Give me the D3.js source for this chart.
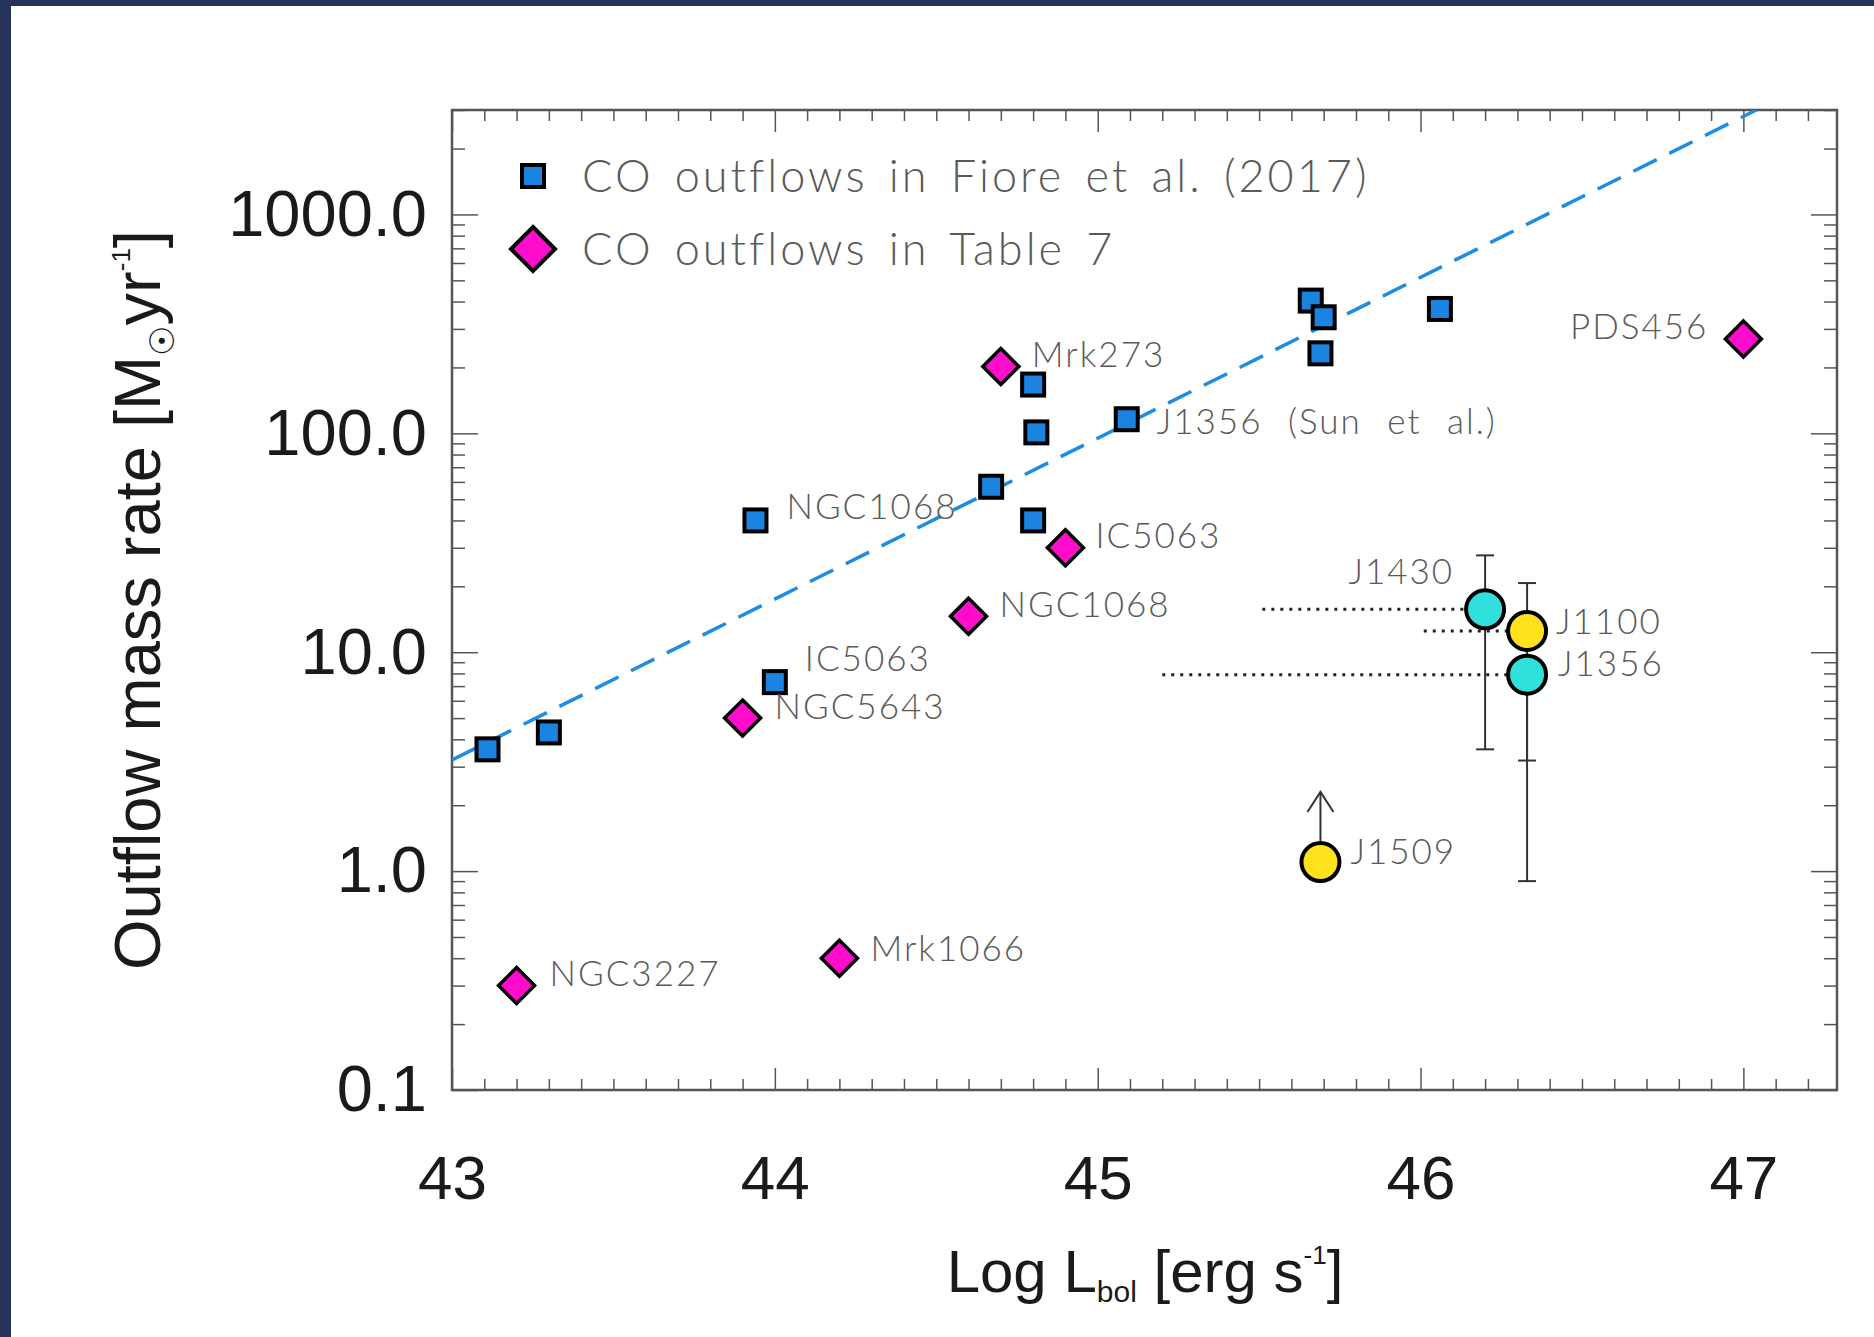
<!DOCTYPE html>
<html>
<head>
<meta charset="utf-8">
<script src="https://cdn.jsdelivr.net/npm/d3@7"></script>
<style>
body { margin: 0; background: #25325a; }
svg { display: block; }
</style>
</head>
<body>
<div id="chart"></div>
<script>
// CO outflows in Fiore et al. (2017)
const fioreNames = ["", "", "NGC1068", "IC5063", "", "", "", "", "J1356 (Sun et al.)", "", "", "", ""];
const fioreLogL = [43.11, 43.30, 43.94, 44.00, 44.67, 44.80, 44.81, 44.80, 45.09, 45.66, 45.70, 45.69, 46.06];
const fioreMdot = [3.6, 4.3, 40, 7.3, 57, 167, 101, 40, 116, 404, 339, 232, 370];

// CO outflows in Table 7
const t7Names = ["NGC3227", "Mrk1066", "NGC5643", "NGC1068", "IC5063", "Mrk273", "PDS456"];
const t7LogL = [43.20, 44.20, 43.90, 44.60, 44.90, 44.70, 47.00];
const t7Mdot = [0.30, 0.40, 5.0, 14.6, 30, 202, 270];

// this work
const ownNames = ["J1430", "J1100", "J1356", "J1509"];
const ownGroup = ["a", "b", "a", "b"];
const ownLogL = [46.20, 46.33, 46.33, 45.69];
const ownMdot = [15.7, 12.5, 7.9, 1.1];
const ownLow = [3.6, 3.2, 0.9, null];
const ownHigh = [27.7, 20.7, 9.0, null];
const ownLogLmin = [45.51, 46.01, 45.20, null];
const ownLimitTo = [null, null, null, 2.3];

// Fiore et al. relation (dashed)
const fitLogL = [43.0, 47.04];
const fitMdot = [3.22, 3000];

// axes
const xTicks = [43, 44, 45, 46, 47];
const xTickLabels = ["43", "44", "45", "46", "47"];
const yTicks = [0.1, 1, 10, 100, 1000];
const yTickLabels = ["0.1", "1.0", "10.0", "100.0", "1000.0"];

// label placement (dx, dy, anchor) relative to the marker
const labelLayout = {
    "fiore:NGC1068": [31, -14, "start"],
    "fiore:IC5063": [30, -24, "start"],
    "fiore:J1356 (Sun et al.)": [30, 2, "start"],
    "t7:NGC3227": [33, -12, "start"],
    "t7:Mrk1066": [31, -10, "start"],
    "t7:NGC5643": [32, -12, "start"],
    "t7:NGC1068": [31, -12, "start"],
    "t7:IC5063": [30, -12, "start"],
    "t7:Mrk273": [31, -12, "start"],
    "t7:PDS456": [-35, -13, "end"],
    "own:J1430": [-31, -38, "end"],
    "own:J1100": [29, -10, "start"],
    "own:J1356": [31, -11, "start"],
    "own:J1509": [30, -11, "start"]
};

let W = 1874, H = 1337;
let m = {top: 110, left: 452};
let w = 1385, h = 980;

let svg = d3.select("#chart").append("svg")
    .attr("width", W)
    .attr("height", H);

svg.append("rect").attr("width", W).attr("height", H).attr("fill", "#25325a");
svg.append("rect").attr("x", 11).attr("y", 6).attr("width", W - 11).attr("height", H - 6).attr("fill", "#fff");

let g = svg.append("g").attr("transform", "translate(" + m.left + "," + m.top + ")");

let x = d3.scaleLinear().domain([43, 47.29]).range([0, w]);
let y = d3.scaleLog().domain([0.1, 3000]).range([h, 0]);

let colour = d3.scaleOrdinal().domain(["a", "b"]).range(["#2fe0dc", "#ffe21c"]);
let blue = "#1a84e0", pink = "#ff0ccc";

let labelFont = "Lato, 'DejaVu Sans', sans-serif";

// minor ticks
let xMinor = d3.range(431, 473).filter(d => d % 10 != 0).map(d => d / 10);
let yMinor = [];
yTicks.forEach(d => {
    for (let k = 2; k <= 9; k++) if (d * k <= 3000) yMinor.push(d * k);
});

const styleAxis = (sel) => {
    sel.select(".domain").remove();
    sel.selectAll(".tick line").attr("stroke", "#555").attr("stroke-width", 1.5);
};

g.append("g").attr("transform", "translate(0," + h + ")")
    .call(d3.axisBottom(x).tickValues(xMinor).tickSize(-11).tickFormat(""))
    .call(styleAxis);
g.append("g").attr("transform", "translate(0," + h + ")")
    .call(d3.axisBottom(x).tickValues(xTicks).tickSize(-22).tickPadding(65)
        .tickFormat((d, i) => xTickLabels[i]))
    .call(styleAxis)
    .selectAll("text")
    .attr("font-family", "'Liberation Sans', Arial, sans-serif")
    .attr("font-size", 62)
    .attr("fill", "#1a1a1a");
g.append("g").call(d3.axisTop(x).tickValues(xMinor).tickSize(-11).tickFormat("")).call(styleAxis);
g.append("g").call(d3.axisTop(x).tickValues(xTicks).tickSize(-22).tickFormat("")).call(styleAxis);

g.append("g").call(d3.axisLeft(y).tickValues(yMinor).tickSize(-13).tickFormat("")).call(styleAxis);
g.append("g")
    .call(d3.axisLeft(y).tickValues(yTicks).tickSize(-26).tickPadding(25)
        .tickFormat((d, i) => yTickLabels[i]))
    .call(styleAxis)
    .selectAll("text")
    .attr("font-family", "'Liberation Sans', Arial, sans-serif")
    .attr("font-size", 65)
    .attr("fill", "#1a1a1a");
g.append("g").attr("transform", "translate(" + w + ",0)")
    .call(d3.axisRight(y).tickValues(yMinor).tickSize(-13).tickFormat("")).call(styleAxis);
g.append("g").attr("transform", "translate(" + w + ",0)")
    .call(d3.axisRight(y).tickValues(yTicks).tickSize(-26).tickFormat("")).call(styleAxis);

g.append("rect")
    .attr("width", w).attr("height", h)
    .attr("fill", "none").attr("stroke", "#555").attr("stroke-width", 2.5);

// axis titles
let yTitle = svg.append("text")
    .attr("transform", "rotate(-90)")
    .attr("x", -600).attr("y", 160)
    .attr("text-anchor", "middle")
    .attr("font-family", "'Liberation Sans', Arial, sans-serif")
    .attr("font-size", 65)
    .attr("fill", "#1a1a1a");
yTitle.append("tspan").text("Outflow mass rate [M");
yTitle.append("tspan").attr("font-family", "'DejaVu Sans', sans-serif").attr("font-size", 34).attr("dy", 14).text("\u2609");
yTitle.append("tspan").attr("dy", -14).text("yr");
yTitle.append("tspan").attr("font-size", 26).attr("dy", -30).text("-1");
yTitle.append("tspan").attr("dy", 30).text("]");

let xTitle = svg.append("text")
    .attr("x", 1145).attr("y", 1292)
    .attr("text-anchor", "middle")
    .attr("font-family", "'Liberation Sans', Arial, sans-serif")
    .attr("font-size", 60)
    .attr("fill", "#1a1a1a");
xTitle.append("tspan").text("Log L");
xTitle.append("tspan").attr("font-size", 30).attr("dy", 10).text("bol");
xTitle.append("tspan").attr("dy", -10).text(" [erg s");
xTitle.append("tspan").attr("font-size", 26).attr("dy", -28).text("-1");
xTitle.append("tspan").attr("dy", 28).text("]");

// clip for the fit line
g.append("clipPath").attr("id", "plotclip")
    .append("rect").attr("width", w).attr("height", h);

let fit = fitLogL.map((d, i) => [d, fitMdot[i]]);
g.append("path")
    .datum(fit)
    .attr("clip-path", "url(#plotclip)")
    .attr("d", d3.line().x(d => x(d[0])).y(d => y(d[1])))
    .attr("fill", "none")
    .attr("stroke", "#1e8ce2")
    .attr("stroke-width", 3.5)
    .attr("stroke-dasharray", "26,14");

// own sources: dotted luminosity ranges, error bars, limit arrow
let own = ownNames.map((d, i) => ({
    name: d, group: ownGroup[i], L: ownLogL[i], M: ownMdot[i],
    lo: ownLow[i], hi: ownHigh[i], Lmin: ownLogLmin[i], lim: ownLimitTo[i]
}));

g.selectAll(".range").data(own.filter(d => d.Lmin != null)).enter()
    .append("line")
    .attr("x1", d => x(d.Lmin)).attr("x2", d => x(d.L))
    .attr("y1", d => y(d.M)).attr("y2", d => y(d.M))
    .attr("stroke", "#222").attr("stroke-width", 3)
    .attr("stroke-dasharray", "3,6");

let bars = g.selectAll(".err").data(own.filter(d => d.lo != null)).enter().append("g");
bars.append("line")
    .attr("x1", d => x(d.L)).attr("x2", d => x(d.L))
    .attr("y1", d => y(d.lo)).attr("y2", d => y(d.hi))
    .attr("stroke", "#333").attr("stroke-width", 2);
bars.append("line")
    .attr("x1", d => x(d.L) - 9).attr("x2", d => x(d.L) + 9)
    .attr("y1", d => y(d.lo)).attr("y2", d => y(d.lo))
    .attr("stroke", "#333").attr("stroke-width", 2);
bars.append("line")
    .attr("x1", d => x(d.L) - 9).attr("x2", d => x(d.L) + 9)
    .attr("y1", d => y(d.hi)).attr("y2", d => y(d.hi))
    .attr("stroke", "#333").attr("stroke-width", 2);

let arrows = g.selectAll(".lim").data(own.filter(d => d.lim != null)).enter().append("g");
arrows.append("line")
    .attr("x1", d => x(d.L)).attr("x2", d => x(d.L))
    .attr("y1", d => y(d.M)).attr("y2", d => y(d.lim))
    .attr("stroke", "#333").attr("stroke-width", 2);
arrows.append("path")
    .attr("d", d => {
        let cx = x(d.L), cy = y(d.lim);
        return "M" + (cx - 13) + "," + (cy + 20) + "L" + cx + "," + cy + "L" + (cx + 13) + "," + (cy + 20);
    })
    .attr("fill", "none").attr("stroke", "#333").attr("stroke-width", 2);

// Fiore squares
let fiore = fioreNames.map((d, i) => ({name: d, L: fioreLogL[i], M: fioreMdot[i]}));
g.selectAll(".sq").data(fiore).enter()
    .append("rect")
    .attr("x", d => x(d.L) - 11).attr("y", d => y(d.M) - 11)
    .attr("width", 22).attr("height", 22)
    .attr("fill", blue).attr("stroke", "#000").attr("stroke-width", 4);

// Table 7 diamonds
let diamond = (cx, cy, r) => "M" + cx + "," + (cy - r) + "L" + (cx + r) + "," + cy + "L" + cx + "," + (cy + r) + "L" + (cx - r) + "," + cy + "Z";
let t7 = t7Names.map((d, i) => ({name: d, L: t7LogL[i], M: t7Mdot[i]}));
g.selectAll(".dm").data(t7).enter()
    .append("path")
    .attr("d", d => diamond(x(d.L), y(d.M), 18))
    .attr("fill", pink).attr("stroke", "#000").attr("stroke-width", 3.5)
    .attr("stroke-linejoin", "miter");

// own circles
g.selectAll(".ci").data(own).enter()
    .append("circle")
    .attr("cx", d => x(d.L)).attr("cy", d => y(d.M)).attr("r", 19)
    .attr("fill", d => colour(d.group)).attr("stroke", "#000").attr("stroke-width", 4);

// point labels
let labels = [];
fiore.forEach(d => { if (d.name) labels.push(Object.assign({key: "fiore:" + d.name}, d)); });
t7.forEach(d => labels.push(Object.assign({key: "t7:" + d.name}, d)));
own.forEach(d => labels.push(Object.assign({key: "own:" + d.name}, d)));

g.selectAll(".lbl").data(labels).enter()
    .append("text")
    .attr("x", d => x(d.L) + labelLayout[d.key][0])
    .attr("y", d => y(d.M) + labelLayout[d.key][1])
    .attr("dy", "0.36em")
    .attr("text-anchor", d => labelLayout[d.key][2])
    .attr("font-family", labelFont)
    .attr("font-weight", 300)
    .attr("font-size", 35)
    .attr("letter-spacing", 2)
    .attr("word-spacing", 14)
    .attr("fill", "#5a5a5a")
    .text(d => d.name);

// legend
let legend = svg.append("g");
legend.append("rect")
    .attr("x", 522).attr("y", 165).attr("width", 22).attr("height", 22)
    .attr("fill", blue).attr("stroke", "#000").attr("stroke-width", 4);
legend.append("path")
    .attr("d", diamond(533, 249, 22))
    .attr("fill", pink).attr("stroke", "#000").attr("stroke-width", 4);
legend.selectAll(".lt").data(["CO outflows in Fiore et al. (2017)", "CO outflows in Table 7"]).enter()
    .append("text")
    .attr("x", 582)
    .attr("y", (d, i) => i == 0 ? 176 : 249)
    .attr("dy", "0.36em")
    .attr("font-family", labelFont)
    .attr("font-weight", 300)
    .attr("font-size", 45)
    .attr("letter-spacing", 3)
    .attr("word-spacing", 6)
    .attr("fill", "#5a5a5a")
    .text(d => d);
</script>
</body>
</html>
